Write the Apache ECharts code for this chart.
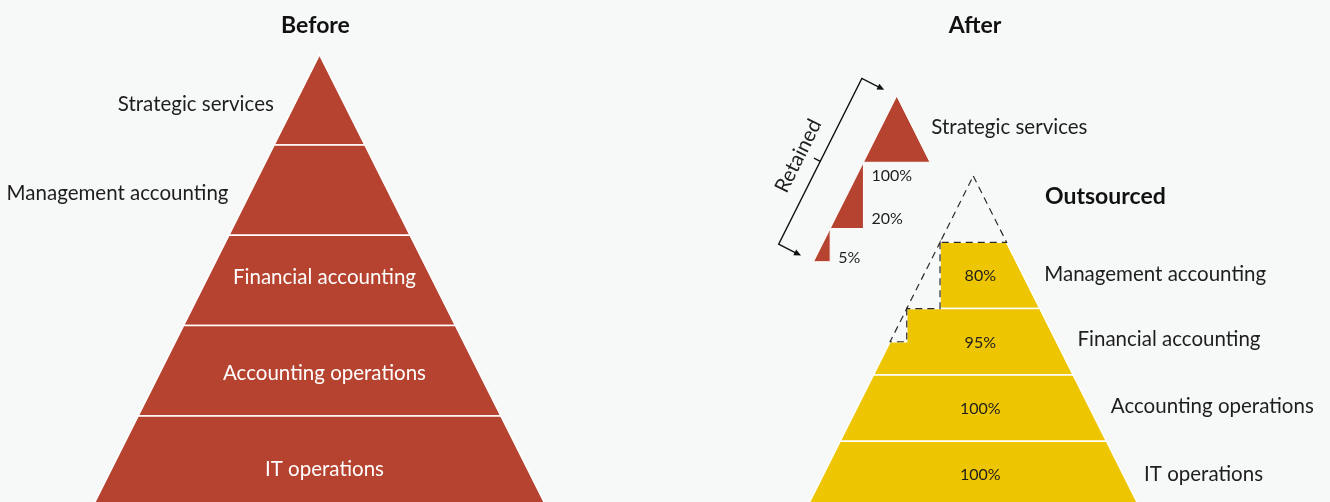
<!DOCTYPE html>
<html>
<head>
<meta charset="utf-8">
<title>Before / After</title>
<script src="https://cdn.jsdelivr.net/npm/echarts@6/dist/echarts.min.js"></script>
<style>
  html, body { margin: 0; padding: 0; background: #f7f9f8; }
  #chart { width: 1330px; height: 502px; }
</style>
</head>
<body>
<div id="chart"></div>
<script>
// ---- data ----
const levels = ['Strategic services', 'Management accounting', 'Financial accounting', 'Accounting operations', 'IT operations'];
const retainedPct = [100, 20, 5, 0, 0];
const outsourcedPct = [0, 80, 95, 100, 100];
const titles = ['Before', 'After'];
const outsourcedTitle = 'Outsourced';
const retainedTitle = 'Retained';

// ---- look ----
const RED = '#b5432f';
const YELLOW = '#edc500';
const INK = '#1e1e1e';
const BG = '#f7f9f8';
const FONT = 'Lato, "Open Sans", sans-serif';
const LABEL_SIZE = 20.5;
const S = 0.502;                  // half width of the pyramid per level of depth
const WEDGE_SHARE = 20;           // share that fills a whole wedge of a band
const OUTSIDE_LEVELS = 2;         // top levels of "Before" labelled outside
const RET_OFF = [-1.155, -1.207]; // where the retained pieces are moved to
const LEFT_DY = [4, 2, -4.5, 1.5, 7];
const RIGHT_DY = [-3, -2.5, -3.5, -3, -1];
const RET_LABEL_Y = [1.19, 1.84, 2.43];

// pyramid frames: apex position and height of one level, in pixels
const LEFT = { x: 319.5, y: 54.7, h: 90.3 };
const RIGHT = { x: 973.3, y: 176, h: 66.3 };
const H = 502;

const chart = echarts.init(document.getElementById('chart'));

function text(x, y, str, o) {
  o = o || {};
  const align = o.align || 'center';
  const size = o.size || LABEL_SIZE;
  return {
    type: 'text', x: x, y: o.rot ? y : y + size * 0.05, rotation: o.rot || 0,
    style: {
      text: str, fill: o.fill || INK, fontFamily: FONT,
      fontSize: size, fontWeight: o.weight || 400,
      align: align, textAlign: align,
      verticalAlign: 'middle', textVerticalAlign: 'middle'
    }
  };
}

function band(k) {
  return [[-S * k, k], [S * k, k], [S * (k + 1), k + 1], [-S * (k + 1), k + 1]];
}
function wedgeDepth(p) {
  return p >= 100 ? 1 : Math.min(1, Math.sqrt(p / WEDGE_SHARE));
}
// piece of band k that is kept in house
function retainedPiece(k) {
  const p = retainedPct[k];
  if (p <= 0) return null;
  if (p >= 100) return band(k);
  const t = wedgeDepth(p);
  return [[-S * k, k], [-S * k, k + t], [-S * (k + t), k + t]];
}
// piece of band k that is outsourced
function outsourcedPiece(k) {
  if (outsourcedPct[k] <= 0) return null;
  const p = retainedPct[k];
  if (p <= 0) return band(k);
  const t = wedgeDepth(p);
  if (t >= 1) return [[-S * k, k], [S * k, k], [S * (k + 1), k + 1], [-S * k, k + 1]];
  return [[-S * k, k], [S * k, k], [S * (k + 1), k + 1], [-S * (k + 1), k + 1],
          [-S * (k + t), k + t], [-S * k, k + t]];
}
const shift = (pts, off) => pts.map(p => [p[0] + off[0], p[1] + off[1]]);

function renderBefore(params, api) {
  const k = params.dataIndex;
  const pts = band(k).map(p => api.coord(p));
  const children = [{ type: 'polygon', shape: { points: pts }, style: { fill: RED, stroke: '#fff', lineWidth: 1.5 } }];
  const mid = k + 0.5;
  if (k < OUTSIDE_LEVELS) {
    const e = api.coord([-S * mid, mid]);
    children.push(text(e[0] - 23, e[1] + LEFT_DY[k], levels[k], { align: 'right' }));
  } else {
    const c = api.coord([0, mid]);
    children.push(text(c[0] + 5, c[1] + LEFT_DY[k], levels[k], { fill: '#fff' }));
  }
  return { type: 'group', children: children };
}

function renderOutsourced(params, api) {
  const k = params.dataIndex;
  const piece = outsourcedPiece(k);
  if (!piece) return null;
  const c = api.coord([0, k + 0.5]);
  const e = api.coord([S * (k + 0.5), k + 0.5]);
  return {
    type: 'group',
    children: [
      { type: 'polygon', shape: { points: piece.map(p => api.coord(p)) }, style: { fill: YELLOW, stroke: '#fff', lineWidth: 1.5 } },
      text(c[0] + 7, c[1], outsourcedPct[k] + '%', { size: 16 }),
      text(e[0] + 21, e[1] + RIGHT_DY[k], levels[k], { align: 'left' })
    ]
  };
}

function renderRetained(params, api) {
  const k = params.dataIndex;
  const piece = retainedPiece(k);
  if (!piece) return null;
  const children = [{ type: 'polygon', shape: { points: shift(piece, RET_OFF).map(p => api.coord(p)) }, style: { fill: RED, stroke: '#fff', lineWidth: 1 } }];
  const lp = api.coord(shift([[-S * Math.max(k, 1), RET_LABEL_Y[k]]], RET_OFF)[0]);
  children.push(text(lp[0] + 8, lp[1], retainedPct[k] + '%', { size: 16, align: 'left' }));
  if (outsourcedPct[k] <= 0) {
    const e = api.coord(shift([[S * (k + 0.5), k + 0.5]], RET_OFF)[0]);
    children.push(text(e[0] + 18, e[1] + RIGHT_DY[k], levels[k], { align: 'left' }));
  }
  return { type: 'group', children: children };
}

function renderGhost(params, api) {
  const piece = retainedPiece(params.dataIndex);
  if (!piece) return null;
  return {
    type: 'polygon',
    shape: { points: piece.map(p => api.coord(p)) },
    style: { fill: 'none', stroke: '#2a2a2a', lineWidth: 1.2, lineDash: [7, 5] }
  };
}

function renderBracket(params, api) {
  // depth of the lowest retained piece
  let bottom = 0;
  levels.forEach((_, k) => {
    if (retainedPct[k] > 0) bottom = Math.max(bottom, k + wedgeDepth(retainedPct[k]));
  });
  const p0 = api.coord(shift([[0, 0]], RET_OFF)[0]);
  const p1 = api.coord(shift([[-S * bottom, bottom]], RET_OFF)[0]);
  const len = Math.hypot(p1[0] - p0[0], p1[1] - p0[1]);
  const d = [(p1[0] - p0[0]) / len, (p1[1] - p0[1]) / len];
  const n = [-d[1], d[0]];
  const at = (p, a, b) => [p[0] + a * n[0] + b * d[0], p[1] + a * n[1] + b * d[1]];
  const t0 = at(p0, 14, 0), t1 = at(p1, 14, 0);
  const e0 = at(p0, 39, 0), e1 = at(p1, 39, 0);
  const m = [(e0[0] + e1[0]) / 2, (e0[1] + e1[1]) / 2];
  const head = (t) => ({
    type: 'polygon',
    shape: { points: [t, at(t, 7, -3.2), at(t, 7, 3.2)] },
    style: { fill: '#111' }
  });
  const line = { stroke: '#111', lineWidth: 1.4, fill: 'none' };
  const tp = at(m, 22, 5);
  return {
    type: 'group',
    children: [
      { type: 'polyline', shape: { points: [at(t0, 6, 0), e0, e1, at(t1, 6, 0)] }, style: line },
      { type: 'line', shape: { x1: m[0], y1: m[1], x2: at(m, 7, 0)[0], y2: at(m, 7, 0)[1] }, style: line },
      head(t0), head(t1),
      text(tp[0], tp[1], retainedTitle, { rot: Math.atan2(d[1], -d[0]) })
    ]
  };
}

const levelData = levels.map((_, i) => [0, i]);
const custom = (name, xi, render, z) => ({
  name: name, type: 'custom', coordinateSystem: 'cartesian2d',
  xAxisIndex: xi, yAxisIndex: xi, data: levelData, renderItem: render,
  silent: true, animation: false, z: z
});

// grids end at the bottom of the canvas, the pyramids run on past it
const frameGrid = (f, yMin) => ({
  left: f.x - 3 * f.h, width: 6 * f.h,
  top: f.y + yMin * f.h, height: H - (f.y + yMin * f.h),
  outerBoundsMode: 'none', containLabel: false
});
const frameMax = (f) => (H - f.y) / f.h;

const titleStyle = { fill: '#111', fontFamily: FONT, fontSize: 23, fontWeight: 700, verticalAlign: 'middle', textVerticalAlign: 'middle' };

const option = {
  backgroundColor: BG,
  animation: false,
  grid: [frameGrid(LEFT, 0), frameGrid(RIGHT, -2)],
  xAxis: [
    { gridIndex: 0, type: 'value', min: -3, max: 3, show: false },
    { gridIndex: 1, type: 'value', min: -3, max: 3, show: false }
  ],
  yAxis: [
    { gridIndex: 0, type: 'value', min: 0, max: frameMax(LEFT), inverse: true, show: false },
    { gridIndex: 1, type: 'value', min: -2, max: frameMax(RIGHT), inverse: true, show: false }
  ],
  graphic: [
    { type: 'text', x: 315.5, y: 26, style: Object.assign({ text: titles[0], align: 'center', textAlign: 'center' }, titleStyle) },
    { type: 'text', x: 975, y: 26, style: Object.assign({ text: titles[1], align: 'center', textAlign: 'center' }, titleStyle) },
    { type: 'text', x: 1045, y: 197, style: Object.assign({ text: outsourcedTitle, align: 'left', textAlign: 'left' }, titleStyle) }
  ],
  series: [
    custom('before', 0, renderBefore, 2),
    custom('outsourced', 1, renderOutsourced, 2),
    custom('retained', 1, renderRetained, 3),
    custom('ghost', 1, renderGhost, 4),
    Object.assign(custom('bracket', 1, renderBracket, 5), { data: [[0, 0]] })
  ]
};

chart.setOption(option);
window.addEventListener('resize', () => chart.resize());
</script>
</body>
</html>
